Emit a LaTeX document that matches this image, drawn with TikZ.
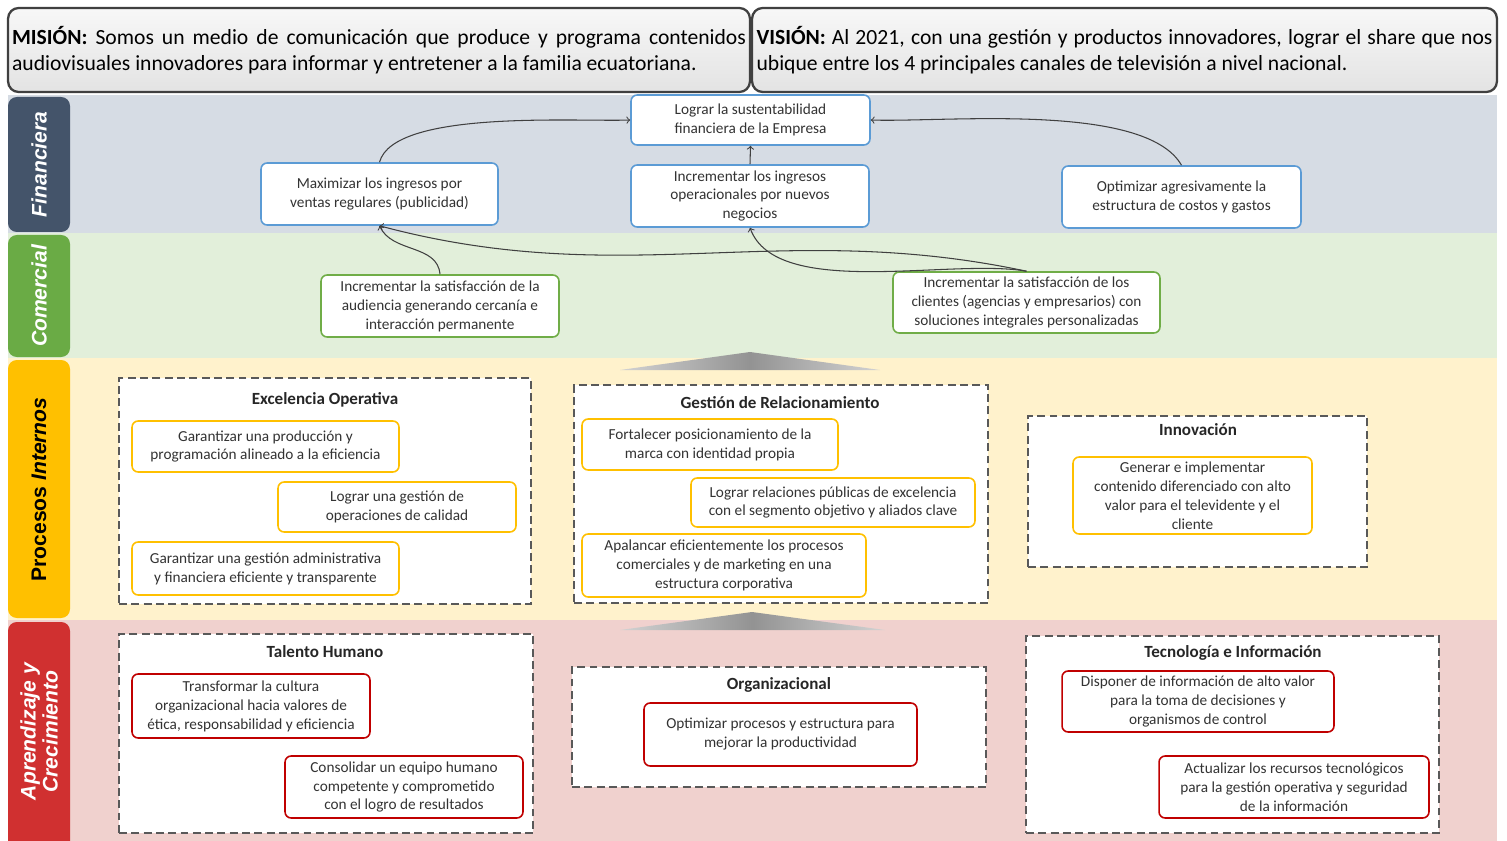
\documentclass[tikz,border=0pt]{standalone}
\usepackage{fontspec}
\setmainfont{Carlito}
\newfontfamily\tabfont{Liberation Sans}
\definecolor{finborde}{HTML}{5B9BD5}
\definecolor{comborde}{HTML}{70AD47}
\definecolor{proborde}{HTML}{FFC000}
\definecolor{apborde}{HTML}{C00000}
\definecolor{finfondo}{HTML}{D6DCE4}
\definecolor{comfondo}{HTML}{E2EFDA}
\definecolor{profondo}{HTML}{FFF2CC}
\definecolor{apfondo}{HTML}{F0D1CE}
\definecolor{fintab}{HTML}{44546A}
\definecolor{comtab}{HTML}{6AAB45}
\definecolor{protab}{HTML}{FFC000}
\definecolor{aptab}{HTML}{D03030}
\tikzset{
  objetivo/.style={draw=#1,line width=0.9pt,rounded corners=3.5pt,fill=white,align=center,
    font=\fontsize{8.7}{10.8}\selectfont,text=black!80,inner sep=0.5pt},
  grupo/.style={draw=black!65,line width=1.1pt,dash pattern=on 4.5pt off 2.5pt,fill=white},
  titulo/.style={font=\bfseries\fontsize{9.7}{11}\selectfont,text=black!85},
  etiqueta/.style={rotate=90,font=\tabfont\bfseries\fontsize{12}{12.5}\selectfont,text=white,align=center},
  cabecera/.style={draw=black!75,line width=1.3pt,rounded corners=6pt,top color=gray!6,bottom color=gray!22,
    inner sep=0pt,align=justify,font=\fontsize{12.3}{14.7}\selectfont,minimum height=1.68cm},
  flecha/.style={->,black!75,line width=0.6pt},
}
\begin{document}
\begin{tikzpicture}[x=0.02cm,y=-0.02cm]
\useasboundingbox (0,0) rectangle (1507,841);
% franjas
\fill[finfondo] (8,95) rectangle (1497,233);
\fill[comfondo] (8,233) rectangle (1497,358);
\fill[profondo] (8,358) rectangle (1497,620);
\fill[apfondo] (8,620) rectangle (1497,841);
\fill[fintab,rounded corners=5pt] (8,97) rectangle (70,232);
\fill[comtab,rounded corners=5pt] (8,235) rectangle (70,357);
\fill[protab,rounded corners=5pt] (8,360) rectangle (70,618);
\fill[aptab,rounded corners=5pt] (8,622) rectangle (70,850);
\node[etiqueta] (lfin) at (39,164.5) {\itshape Financiera};
\node[etiqueta] (lcom) at (39,296) {\itshape Comercial};
\node[etiqueta,text=black] (lpro) at (39,489.5) {Procesos \itshape Internos};
\node[etiqueta] (lapr) at (39,731.5) {\itshape Aprendizaje y\\\itshape Crecimiento};
% mision y vision
\node[cabecera,minimum width=14.84cm,text width=14.68cm] (mision) at (379,50)
  {\textbf{MISIÓN:} Somos un medio de comunicación que produce y programa contenidos\linebreak
   audiovisuales innovadores para informar y entretener a la familia ecuatoriana.};
\node[cabecera,minimum width=14.9cm,text width=14.72cm] (vision) at (1124.5,50)
  {\textbf{VISIÓN:} Al 2021, con una gestión y productos innovadores, lograr el share que nos\linebreak
   ubique entre los 4 principales canales de televisión a nivel nacional.};
% financiera
\node[objetivo=finborde,minimum width=4.78cm,minimum height=1cm] (f1) at (750.5,120)
  {Lograr la sustentabilidad\\financiera de la Empresa};
\node[objetivo=finborde,minimum width=4.74cm,minimum height=1.24cm] (f2) at (379.5,194)
  {Maximizar los ingresos por\\ventas regulares (publicidad)};
\node[objetivo=finborde,minimum width=4.76cm,minimum height=1.24cm] (f3) at (750,196)
  {Incrementar  los ingresos\\operacionales por nuevos\\negocios};
\node[objetivo=finborde,minimum width=4.78cm,minimum height=1.24cm] (f4) at (1181.5,197)
  {Optimizar agresivamente  la\\estructura de costos y gastos};
% comercial
\node[objetivo=comborde,minimum width=4.76cm,minimum height=1.24cm] (c1) at (440,306)
  {Incrementar la satisfacción de la\\audiencia generando cercanía e\\interacción permanente};
\node[objetivo=comborde,minimum width=5.34cm,minimum height=1.22cm] (c2) at (1026.5,302.5)
  {Incrementar la satisfacción de los\\clientes (agencias y empresarios) con\\soluciones integrales personalizadas};
\draw[flecha] (f2.north) to[out=75,in=182,looseness=0.55] (f1.west);
\draw[flecha] (f4.north) to[out=120,in=-2,looseness=0.6] (f1.east);
\draw[flecha] (f3.north) -- (f1.south);
\draw[flecha] (c1.north) to[out=95,in=-65] (f2.south);
\draw[flecha] (c2.north) to[out=168,in=-15] (f2.south);
\draw[flecha] (c2.north) to[out=170,in=-70,looseness=0.7] (f3.south);
% flechas grises
\shade[left color=gray!35,right color=gray!35,middle color=gray!85] (620,370) -- (750,352) -- (880,370) -- cycle;
\shade[left color=gray!35,right color=gray!35,middle color=gray!85] (620,630) -- (752,612) -- (885,630) -- cycle;
% procesos internos
\node[grupo,minimum width=8.24cm,minimum height=4.52cm] (excelencia) at (325,491) {};
\node[titulo] (texcelencia) at (325,400) {Excelencia Operativa};
\node[objetivo=proborde,minimum width=5.34cm,minimum height=1.02cm] (p1) at (265.5,446.5)
  {Garantizar una producción y\\programación alineado a la eficiencia};
\node[objetivo=proborde,minimum width=4.76cm,minimum height=1cm] (p2) at (397,507)
  {Lograr una gestión de\\operaciones de calidad};
\node[objetivo=proborde,minimum width=5.34cm,minimum height=1.06cm] (p3) at (265.5,568.5)
  {Garantizar una gestión administrativa\\y financiera eficiente y transparente};
\node[grupo,minimum width=8.28cm,minimum height=4.36cm] (relacion) at (781,494) {};
\node[titulo] (trelacion) at (780,403) {Gestión de Relacionamiento};
\node[objetivo=proborde,minimum width=5.12cm,minimum height=1.02cm] (p4) at (710,444.5)
  {Fortalecer posicionamiento de la\\marca con identidad propia};
\node[objetivo=proborde,minimum width=5.68cm,minimum height=0.98cm] (p5) at (833,502.5)
  {Lograr relaciones públicas de excelencia\\con el segmento objetivo y aliados clave};
\node[objetivo=proborde,minimum width=5.68cm,minimum height=1.26cm] (p6) at (724,565.5)
  {Apalancar eficientemente  los procesos\\comerciales y de marketing en una\\estructura corporativa};
\node[grupo,minimum width=6.78cm,minimum height=3.02cm] (innovacion) at (1197.5,491.5) {};
\node[titulo] (tinnovacion) at (1198,430) {Innovación};
\node[objetivo=proborde,minimum width=4.78cm,minimum height=1.54cm,inner sep=0pt] (p7) at (1192.5,495.5)
  {Generar e implementar\\contenido diferenciado con alto\\valor para el televidente y el\\cliente};
% aprendizaje y crecimiento
\node[grupo,minimum width=8.28cm,minimum height=3.98cm] (talento) at (326,733.5) {};
\node[titulo] (ttalento) at (325,652) {Talento Humano};
\node[objetivo=apborde,minimum width=4.76cm,minimum height=1.28cm] (a1) at (251,706)
  {Transformar la cultura\\organizacional hacia valores de\\ética, responsabilidad y eficiencia};
\node[objetivo=apborde,minimum width=4.76cm,minimum height=1.24cm] (a2) at (404,787)
  {Consolidar un equipo humano\\competente y comprometido\\con el logro de resultados};
\node[grupo,minimum width=8.28cm,minimum height=2.4cm] (organizacion) at (779,727) {};
\node[titulo] (torganizacion) at (779,685) {Organizacional};
\node[objetivo=apborde,minimum width=5.46cm,minimum height=1.26cm] (a3) at (780.5,734.5)
  {Optimizar procesos y estructura para\\mejorar la productividad};
\node[grupo,minimum width=8.26cm,minimum height=3.94cm] (tecnologia) at (1232.5,734.5) {};
\node[titulo] (ttecnologia) at (1233,653) {Tecnología e Información};
\node[objetivo=apborde,minimum width=5.44cm,minimum height=1.22cm] (a4) at (1198,701.5)
  {Disponer de información de alto valor\\para la toma de decisiones y\\organismos de control};
\node[objetivo=apborde,minimum width=5.4cm,minimum height=1.24cm] (a5) at (1294,787)
  {Actualizar  los recursos tecnológicos\\para la gestión operativa y seguridad\\de la información};
\end{tikzpicture}
\end{document}
